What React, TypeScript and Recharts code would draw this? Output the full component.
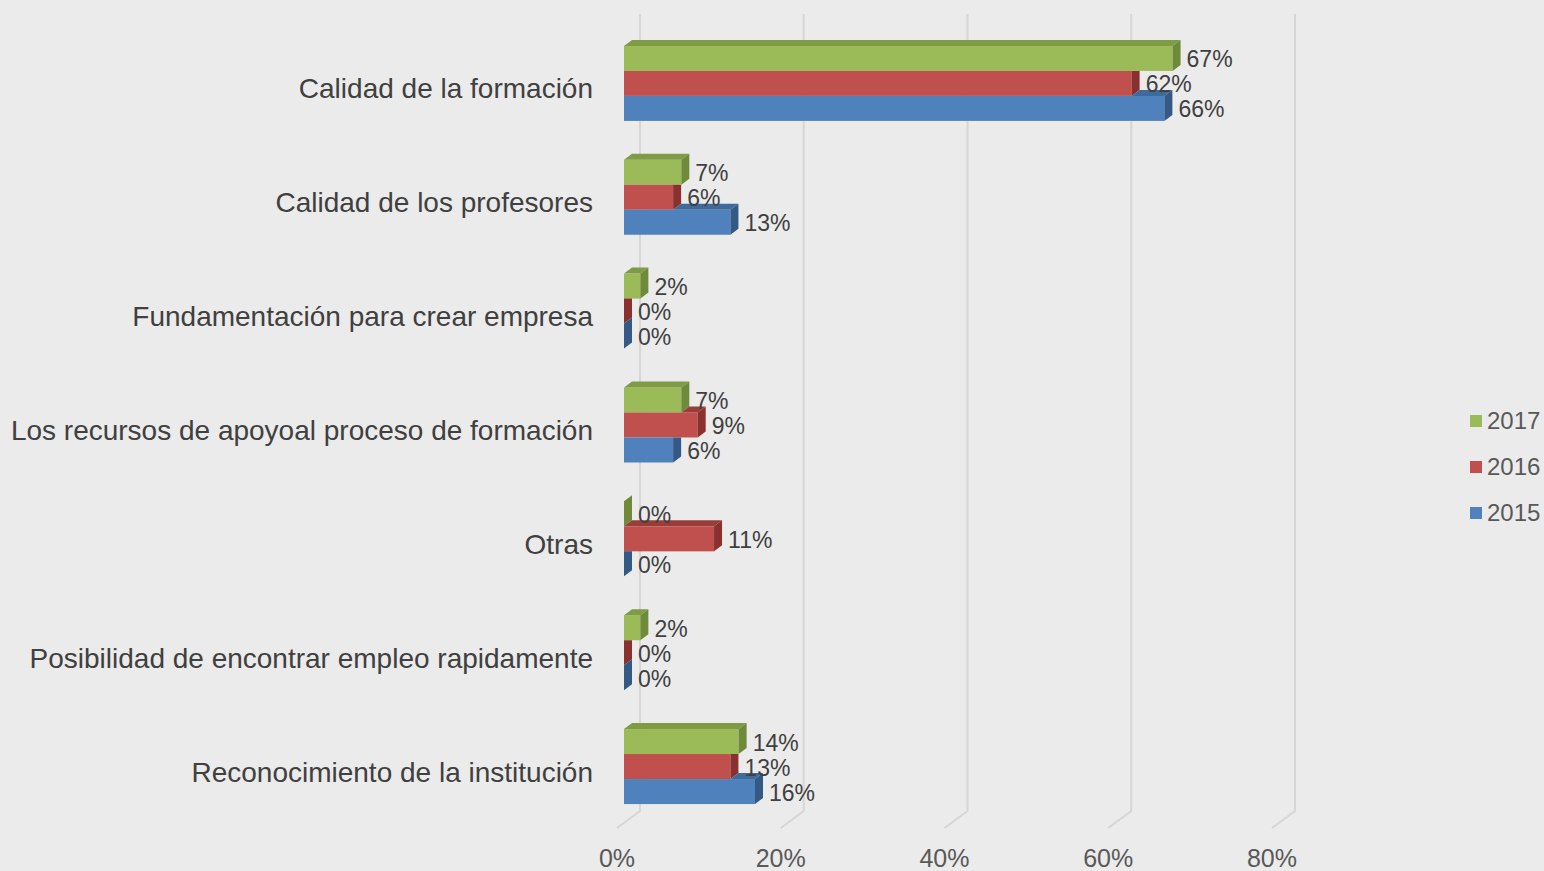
import React from 'react';
import { BarChart, Bar, XAxis, YAxis, CartesianGrid, LabelList } from 'recharts';

const categories = [
  'Calidad de la formación',
  'Calidad de los profesores',
  'Fundamentación para crear empresa',
  'Los recursos de apoyoal proceso de formación',
  'Otras',
  'Posibilidad de encontrar empleo rapidamente',
  'Reconocimiento de la institución',
];
const values2017 = [67, 7, 2, 7, 0, 2, 14];
const values2016 = [62, 6, 0, 9, 11, 0, 13];
const values2015 = [66, 13, 0, 6, 0, 0, 16];
const xTicks = [0, 20, 40, 60, 80];

const series = [
  { key: 'y2017', name: '2017', values: values2017, front: '#9BBB59', top: '#7F9B46', side: '#6E8A3A' },
  { key: 'y2016', name: '2016', values: values2016, front: '#C0504D', top: '#9A3C3A', side: '#8A302E' },
  { key: 'y2015', name: '2015', values: values2015, front: '#4F81BD', top: '#3F6A9C', side: '#345985' },
];

const data = categories.map((name, i) => {
  const row: any = { name };
  series.forEach((s) => (row[s.key] = s.values[i]));
  return row;
});

// 3D styling offsets
const SX = 7;
const SY = -4;
const DX = 8;
const DY = -6;

function makeShape(s: any, aboveKey: string | null) {
  return (props: any) => {
    const { x, y, width, height, payload } = props;
    const v = payload[s.key];
    const va = aboveKey ? payload[aboveKey] : null;
    const X = x + SX;
    const Y = y + SY;
    const w = Math.max(width || 0, 0);
    const h = height;
    const ratio = v > 0 ? w / v : 0;
    const wa = va != null ? va * ratio : 0;
    const parts: any[] = [];
    parts.push(<rect key="f" x={X} y={Y} width={w} height={h} fill={s.front} />);
    if (w > 0) {
      const start = va != null ? Math.min(wa, w) : 0;
      if (va == null || va < v) {
        parts.push(
          <polygon
            key="t"
            points={`${X + start},${Y} ${X + start + DX},${Y + DY} ${X + w + DX},${Y + DY} ${X + w},${Y}`}
            fill={s.top}
          />
        );
      }
    }
    if (va != null && va > v) {
      parts.push(
        <polygon
          key="s"
          points={`${X + w},${Y} ${X + w + DX},${Y} ${X + w + DX},${Y + h + DY} ${X + w},${Y + h}`}
          fill={s.side}
        />
      );
    } else {
      parts.push(
        <polygon
          key="s"
          points={`${X + w},${Y} ${X + w + DX},${Y + DY} ${X + w + DX},${Y + h + DY} ${X + w},${Y + h}`}
          fill={s.side}
        />
      );
    }
    return <g>{parts}</g>;
  };
}

const renderLabel = (props: any) => {
  const { x, y, width, height, value } = props;
  return (
    <text
      x={x + Math.max(width || 0, 0) + SX + DX + 6}
      y={y + height / 2 + SY + 1}
      dominantBaseline="central"
      fontSize={23}
      fill="#404040"
      fontFamily="'Liberation Sans', Arial, sans-serif"
    >
      {`${value}%`}
    </text>
  );
};

const gridLine = (props: any) => {
  const { x1, y1, y2, key } = props;
  return (
    <path
      key={key}
      d={`M${x1 + 23},${y1 - 17} L${x1 + 23},${y2 - 17} L${x1},${y2}`}
      stroke="#D6D6D6"
      strokeWidth={2}
      fill="none"
    />
  );
};

const CategoryTick = (props: any) => {
  const { y, payload } = props;
  return (
    <text
      x={593}
      y={y + 1}
      textAnchor="end"
      dominantBaseline="central"
      fontSize={28}
      fill="#404040"
      fontFamily="'Liberation Sans', Arial, sans-serif"
    >
      {payload.value}
    </text>
  );
};

const ValueTick = (props: any) => {
  const { x, payload } = props;
  return (
    <text
      x={x}
      y={867}
      textAnchor="middle"
      fontSize={25}
      fill="#595959"
      fontFamily="'Liberation Sans', Arial, sans-serif"
    >
      {`${payload.value}%`}
    </text>
  );
};

export default function App() {
  return (
    <div
      style={{
        position: 'absolute',
        left: 0,
        top: 0,
        width: 1544,
        height: 871,
        background: '#EBEBEB',
        overflow: 'hidden',
        fontFamily: "'Liberation Sans', Arial, sans-serif",
      }}
    >
      <BarChart
        width={1544}
        height={871}
        data={data}
        layout="vertical"
        margin={{ top: 31, right: 272, bottom: 0, left: 0 }}
        barGap={0}
        barCategoryGap="16.6%"
      >
        <CartesianGrid horizontal={false} vertical={gridLine} />
        <XAxis
          type="number"
          domain={[0, 80]}
          ticks={xTicks}
          axisLine={false}
          tickLine={false}
          height={43}
          tick={<ValueTick />}
          interval={0}
        />
        <YAxis
          type="category"
          dataKey="name"
          width={617}
          axisLine={false}
          tickLine={false}
          tick={<CategoryTick />}
          interval={0}
        />
        {series.map((s, i) => (
          <Bar
            key={s.key}
            dataKey={s.key}
            name={s.name}
            fill={s.front}
            isAnimationActive={false}
            shape={makeShape(s, i > 0 ? series[i - 1].key : null)}
          >
            <LabelList dataKey={s.key} content={renderLabel} />
          </Bar>
        ))}
      </BarChart>
      {series.map((s, i) => (
        <div
          key={s.key}
          style={{
            position: 'absolute',
            left: 1470,
            top: 421 + i * 46 - 14,
            height: 28,
            display: 'flex',
            alignItems: 'center',
          }}
        >
          <div style={{ width: 12, height: 12, background: s.front, marginRight: 5 }} />
          <span style={{ fontSize: 24, color: '#595959', lineHeight: '28px' }}>{s.name}</span>
        </div>
      ))}
    </div>
  );
}
